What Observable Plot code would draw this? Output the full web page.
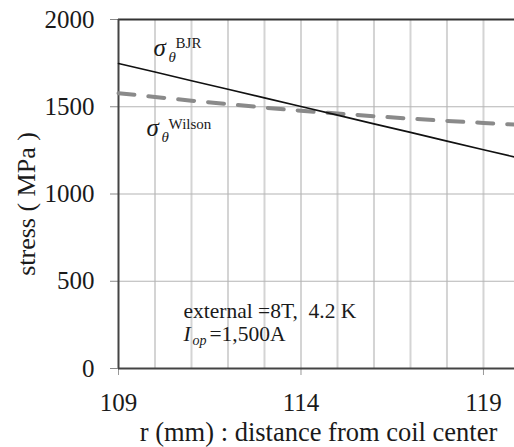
<!DOCTYPE html>
<html><head><meta charset="utf-8">
<script src="https://cdn.jsdelivr.net/npm/d3@7"></script>
<script src="https://cdn.jsdelivr.net/npm/@observablehq/plot@0.6"></script>
<style>
html,body{margin:0;padding:0;background:#fff;overflow:hidden;}
#chart svg, #chart svg text { font-family: "Liberation Serif", "DejaVu Serif", serif !important; }
</style></head>
<body><div id="chart"></div>
<script>
const radius = [109,110,111,112,113,114,115,116,117,118,119,119.85];
const stressBJR = [1748,1699,1649,1600,1551,1501,1452,1402,1353,1303,1254,1212];
const stressWilson = [1578,1556,1535,1515,1495,1477,1461,1446,1432,1419,1407,1398];
const xTicks = [109,114,119];
const xGrid = [110,111,112,113,114,115,116,117,118,119];
const yTicks = [0,500,1000,1500,2000];
const yGrid = [500,1000,1500];
const xLabel = "r (mm) : distance from coil center";
const yLabel = "stress ( MPa )";

const bjrData = radius.map((r,i)=>({r, s: stressBJR[i]}));
const wilsonData = radius.map((r,i)=>({r, s: stressWilson[i]}));

const ink = "#1a1a1a";

const chart = Plot.plot({
  width: 514, height: 447,
  marginLeft: 118, marginRight: 0, marginTop: 19, marginBottom: 79,
  style: "font-family: 'Liberation Serif', serif; color: #1a1a1a; background: #fff;",
  x: {domain: [109, 119.85]},
  y: {domain: [0, 2000]},
  marks: [
    Plot.ruleX(xGrid, {stroke: "#d4d4d4", strokeWidth: 2}),
    Plot.ruleY(yGrid, {stroke: "#b4b4b4", strokeWidth: 1.2}),
    Plot.axisY({ticks: yTicks, tickSize: 8, tickPadding: 16, fontSize: 25, label: null, stroke: "#888", tickFormat: d => String(d)}),
    Plot.axisX({ticks: xTicks, tickSize: 7, tickPadding: 18, fontSize: 25, stroke: "#999", tickFormat: d => String(d), label: null}),
    Plot.text([xLabel], {frameAnchor: "bottom", dx: 2, dy: 72, fontSize: 26.5, fill: ink, textAnchor: "middle", lineAnchor: "bottom"}),
    Plot.text([yLabel], {frameAnchor: "left", rotate: -90, dx: -92, dy: 10, fontSize: 26, fill: ink, textAnchor: "middle", lineAnchor: "middle"}),
    Plot.ruleY([2000], {stroke: "#333", strokeWidth: 2.2}),
    Plot.ruleY([0], {stroke: "#444", strokeWidth: 2}),
    Plot.ruleX([109], {stroke: "#444", strokeWidth: 2}),
    Plot.line(wilsonData, {x: "r", y: "s", stroke: "#8a8a8a", strokeWidth: 4, strokeDasharray: "16,14"}),
    Plot.line(bjrData, {x: "r", y: "s", stroke: "#111", strokeWidth: 1.6}),
    // BJR label
    Plot.text(["σ"], {x: 109.96, y: 1788, fontSize: 25, fontStyle: "italic", textAnchor: "start", lineAnchor: "bottom", fill: ink}),
    Plot.text(["θ"], {x: 109.96, y: 1788, dx: 15, dy: 6, fontSize: 15, fontStyle: "italic", textAnchor: "start", lineAnchor: "bottom", fill: ink}),
    Plot.text(["BJR"], {x: 109.96, y: 1788, dx: 22, dy: -8, fontSize: 15, textAnchor: "start", lineAnchor: "bottom", fill: ink}),
    // Wilson label
    Plot.text(["σ"], {x: 109.77, y: 1335, fontSize: 25, fontStyle: "italic", textAnchor: "start", lineAnchor: "bottom", fill: ink}),
    Plot.text(["θ"], {x: 109.77, y: 1335, dx: 15, dy: 6, fontSize: 15, fontStyle: "italic", textAnchor: "start", lineAnchor: "bottom", fill: ink}),
    Plot.text(["Wilson"], {x: 109.77, y: 1335, dx: 22, dy: -7, fontSize: 15, textAnchor: "start", lineAnchor: "bottom", fill: ink}),
    // condition annotation
    Plot.text(["external =8T,\u00a0\u00a04.2 K"], {x: 110.78, y: 290, fontSize: 21.5, textAnchor: "start", lineAnchor: "bottom", fill: ink}),
    Plot.text(["I"], {x: 110.78, y: 160, fontSize: 21.5, fontStyle: "italic", textAnchor: "start", lineAnchor: "bottom", fill: ink}),
    Plot.text(["op"], {x: 110.78, y: 160, dx: 9, dy: 4, fontSize: 14, fontStyle: "italic", textAnchor: "start", lineAnchor: "bottom", fill: ink}),
    Plot.text(["=1,500A"], {x: 110.78, y: 160, dx: 26, fontSize: 21.5, textAnchor: "start", lineAnchor: "bottom", fill: ink})
  ]
});
document.getElementById("chart").appendChild(chart);
</script></body></html>
